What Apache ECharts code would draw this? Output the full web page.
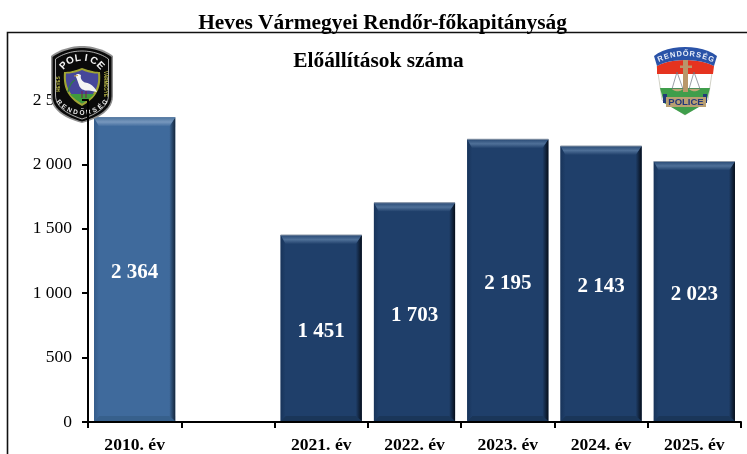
<!DOCTYPE html>
<html><head><meta charset="utf-8">
<style>html,body{margin:0;padding:0;background:#fff}#c{width:747px;height:454px}</style>
<script src="https://cdn.jsdelivr.net/npm/echarts@6/dist/echarts.min.js"></script>
</head><body><div id="c"></div>
<script>
const categories = ['2010. év', '', '2021. év', '2022. év', '2023. év', '2024. év', '2025. év'];
const values = [2364, null, 1451, 1703, 2195, 2143, 2023];
const barTones = ['light', null, 'dark', 'dark', 'dark', 'dark', 'dark'];
const yTicks = [0, 500, 1000, 1500, 2000, 2500];
const pageTitle = 'Heves Vármegyei Rendőr-főkapitányság';
const chartTitle = 'Előállítások száma';

const FONT = '"Liberation Serif","Times New Roman",serif';
const fmt = v => String(v).replace(/\B(?=(\d{3})+$)/g, ' ');
const palette = {
  light: {base:'#3f6a9c', hi:'#7797bd', top:'#4f769f', rightEnd:'#14263c', left:'#345c8a', bottom:'#37608c', edge:'#5d7fa6'},
  dark:  {base:'#1f3f6a', hi:'#4f7098', top:'#294a75', rightEnd:'#060e1a', left:'#18345a', bottom:'#1a3659', edge:'#8d99a8'}
};
const grad = (x,y,x2,y2,stops) => ({type:'linear',x,y,x2,y2,colorStops:stops.map((c,k)=>({offset:k/(stops.length-1),color:c}))});

function renderBar(params, api) {
  const v = api.value(1);
  if (v == null || isNaN(v)) return null;
  const i = api.value(0);
  const top = api.coord([i, v]), bot = api.coord([i, 0]);
  const w = api.size([1, 0])[0] * 0.87;
  const x0 = top[0] - w/2, x1 = top[0] + w/2, y0 = top[1], y1 = bot[1] - 1;
  const p = palette[barTones[i]];
  const bt = 9, bs = 5, bb = 5;
  const poly = (pts, fill) => ({type:'polygon', shape:{points:pts}, style:{fill}});
  return {type:'group', children:[
    {type:'rect', shape:{x:x0,y:y0,width:x1-x0,height:y1-y0}, style:{fill:p.base}},
    poly([[x0,y1],[x1,y1],[x1-bs,y1-bb],[x0+bs,y1-bb]], p.bottom),
    poly([[x0,y0],[x0+bs,y0+bt],[x0+bs,y1-bb],[x0,y1]], grad(0,0,1,0,[p.left,p.base])),
    poly([[x1,y0],[x1-bs-1,y0+bt],[x1-bs-1,y1-bb],[x1,y1]], grad(0,0,1,0,[p.base,p.rightEnd])),
    poly([[x0,y0],[x1,y0],[x1-bs-1,y0+bt],[x0+bs,y0+bt]], grad(0,0,0,1,[p.top,p.hi,p.base])),
    {type:'rect', shape:{x:x0,y:y0-0.5,width:x1-x0,height:1}, style:{fill:p.edge}},
    {type:'text', x:(x0+x1)/2, y:(y0+y1)/2+3.5, style:{text:fmt(v), fill:'#fff', font:'bold 21px '+FONT, align:'center', verticalAlign:'middle'}}
  ]};
}

function arcText(text, cx, cy, r, startDeg, stepDeg, size, fill, inward) {
  return Array.from(text).map((ch, k) => {
    const a = (startDeg + stepDeg*k) * Math.PI/180;
    return {type:'text', x:cx + r*Math.cos(a), y:cy + r*Math.sin(a),
      rotation: inward ? -(a - Math.PI/2) : -(a + Math.PI/2),
      style:{text:ch, fill, font:'bold '+size+'px "Liberation Sans",sans-serif', align:'center', verticalAlign:'middle'}};
  });
}
// flatten a small M/L/C/Z outline into polygons for the badge artwork
function flatten(d) {
  const toks = d.match(/[MLCZ]|-?[\d.]+/g);
  const subs = []; let cur = null, i = 0, cmd = null;
  const n = () => parseFloat(toks[i++]);
  while (i < toks.length) {
    if (/[MLCZ]/.test(toks[i])) cmd = toks[i++];
    if (cmd === 'M') { cur = {pts:[[n(), n()]], closed:false}; subs.push(cur); cmd = 'L'; }
    else if (cmd === 'L') cur.pts.push([n(), n()]);
    else if (cmd === 'C') {
      const p0 = cur.pts[cur.pts.length-1], a=[n(),n()], b=[n(),n()], c=[n(),n()];
      for (let s = 1; s <= 12; s++) { const t = s/12, u = 1-t;
        cur.pts.push([u*u*u*p0[0]+3*u*u*t*a[0]+3*u*t*t*b[0]+t*t*t*c[0], u*u*u*p0[1]+3*u*u*t*a[1]+3*u*t*t*b[1]+t*t*t*c[1]]);
      }
    } else if (cmd === 'Z') { cur.closed = true; cmd = null; }
  }
  return subs;
}
function P(d, fill, stroke, lw) {
  return {type:'group', children: flatten(d).map(s => ({
    type: s.closed ? 'polygon' : 'polyline',
    shape:{points:s.pts},
    style:{fill: s.closed ? (fill||null) : null, stroke:stroke||null, lineWidth:lw||0}
  }))};
}
const sideText = (t, x, y, rot) => ({type:'text', x, y, rotation:rot, style:{text:t, fill:'#b9b84a', font:'bold 4.5px "Liberation Sans",sans-serif', align:'center', verticalAlign:'middle'}});

const policeLogo = [
  P('M82 46C92 46 104 49 113 56L113 96C113 110 100 118 82 123C64 118 51 110 51 96L51 56C60 49 72 46 82 46Z','#8f8f8f'),
  P('M82 48C92 48 103 51 111.5 57L111.5 96C111.5 109 99 116.5 82 121.5C65 116.5 52.5 109 52.5 96L52.5 57C61 51 72 48 82 48Z','#0a0a0a'),
  P('M82 51C91 51 101 53.5 108.5 59L108.5 95C108.5 107 97 114 82 119C67 114 55.5 107 55.5 95L55.5 59C63 53.5 73 51 82 51Z',null,'#d8d8d8',0.8),
  P('M64 72C72 72 76 70 82 68C88 70 94 72 100 72C101 84 100 96 82 106C65 97 63 84 64 72Z','#a0a533'),
  P('M66 73.5C73 73.5 77 72 82 70C87 72 91 73.5 98 73.5C99 84 97 94 82 103.5C68 95 65 84 66 73.5Z','#46479a'),
  P('M70 94L94 94C91 98 87 100.5 82 103.5C77 100.5 73 98 70 94Z','#3f9a3c'),
  P('M78 74C76 74 75 76 76.5 78L79 85C80 89 84 91 89 90.5L97 92C95 87 90 83 85 82.5C82 81.5 80 78 81 75.5C80.5 74.5 79 74 78 74Z','#f4f4f4'),
  P('M74 76L78 75.5',null,'#c8a040',1),
  P('M82 91L82 98M86 91L86 98',null,'#7a1f4c',1),
  P('M68 92C70 84 72 82 75 80',null,'#2f7a4a',1.4),
  sideText('HEVES', 59, 84, Math.PI/2),
  sideText('VÁRMEGYE', 105, 84, -Math.PI/2)
].concat(
  arcText('POLICE', 82, 84, 26, -135, 18, 10, '#f2f2f2'),
  arcText('RENDŐRSÉG', 82, 83, 30, 140, -12.5, 6.5, '#ececec', true)
);

const rendorLogo = [
  P('M657 66L713 66L708 100L685 115L662 100Z','#ffffff','#8a8a70',0.4),
  P('M657 66C670 58 700 58 714 66L713 74L657 74Z','#e5331f'),
  P('M660 88L710 88L706 103L685 115L664 103Z','#3f9e4b'),
  P('M654 56C668 44 702 44 717 56L714 66C700 58 670 58 657 66Z','#2a53a8'),
  P('M663 94L667 94L667 103L663 103ZM703 94L707 94L707 103L703 103Z','#223a7a'),
  P('M666 97L706 97L706 107L666 107Z','#b99f72'),
  P('M683 60L688 60L688 65.5L692 65.5L692 68L688 68L688 92L683 92L683 68L680 68L680 65.5L683 65.5Z','#b9976a'),
  P('M677 72L672 89L683 89ZM694 72L689 89L700 89Z',null,'#6e7480',0.7),
  P('M672 89C675 92 680 92 683 89ZM689 89C692 92 697 92 700 89Z','#c2a878'),
  {type:'text', x:686, y:102, style:{text:'POLICE', fill:'#22367a', font:'bold 9.5px "Liberation Sans",sans-serif', align:'center', verticalAlign:'middle'}}
].concat(arcText('RENDŐRSÉG', 685.5, 118, 64, -113, 5.8, 7.5, '#e9eef8'));

const frame = {type:'polyline', z:1, shape:{points:[[7.5,454],[7.5,32.5],[747,32.5]]}, style:{fill:'none', stroke:'#111', lineWidth:1.6}};

const chart = echarts.init(document.getElementById('c'), null, {renderer:'canvas'});
const yBase = {type:'value', min:yTicks[0], max:yTicks[yTicks.length-1], interval:yTicks[1]-yTicks[0], splitLine:{show:false}};
chart.setOption({
  animation:false,
  backgroundColor:'#fff',
  textStyle:{fontFamily:FONT},
  title:[
    {text:pageTitle, left:382.5, textAlign:'center', top:12, textStyle:{fontFamily:FONT,fontWeight:'bold',fontSize:21.4,color:'#000',lineHeight:22}, padding:0},
    {text:chartTitle, left:378.5, textAlign:'center', top:50, textStyle:{fontFamily:FONT,fontWeight:'bold',fontSize:21.4,color:'#000',lineHeight:22}, padding:0}
  ],
  grid:{left:88, right:6, top:100, bottom:31, containLabel:false},
  xAxis:{type:'category', data:categories, z:6,
    axisLine:{lineStyle:{color:'#000',width:2}},
    axisTick:{show:true, alignWithLabel:false, length:6, lineStyle:{color:'#000',width:2}},
    axisLabel:{interval:0, margin:14, color:'#000', fontFamily:FONT, fontWeight:'bold', fontSize:17.6}},
  yAxis:[
    Object.assign({}, yBase, {z:1, axisLine:{show:false}, axisTick:{show:false},
      axisLabel:{margin:16, color:'#000', fontFamily:FONT, fontSize:17.5, formatter:fmt}}),
    Object.assign({}, yBase, {z:6, position:'left', axisLabel:{show:false},
      axisLine:{show:true, lineStyle:{color:'#000',width:2}},
      axisTick:{show:true, length:6, lineStyle:{color:'#000',width:2}}})
  ],
  series:[
    {type:'custom', coordinateSystem:'cartesian2d', xAxisIndex:0, yAxisIndex:0, z:3, clip:false,
      renderItem:renderBar, encode:{x:0,y:1},
      data:categories.map((c,i)=>[i, values[i]])},
    {type:'custom', coordinateSystem:'none', z:5, silent:true,
      renderItem:()=>({type:'group', children:policeLogo.concat(rendorLogo)}),
      data:[[0]]}
  ],
  graphic:{elements:[frame]}
});
</script></body></html>
